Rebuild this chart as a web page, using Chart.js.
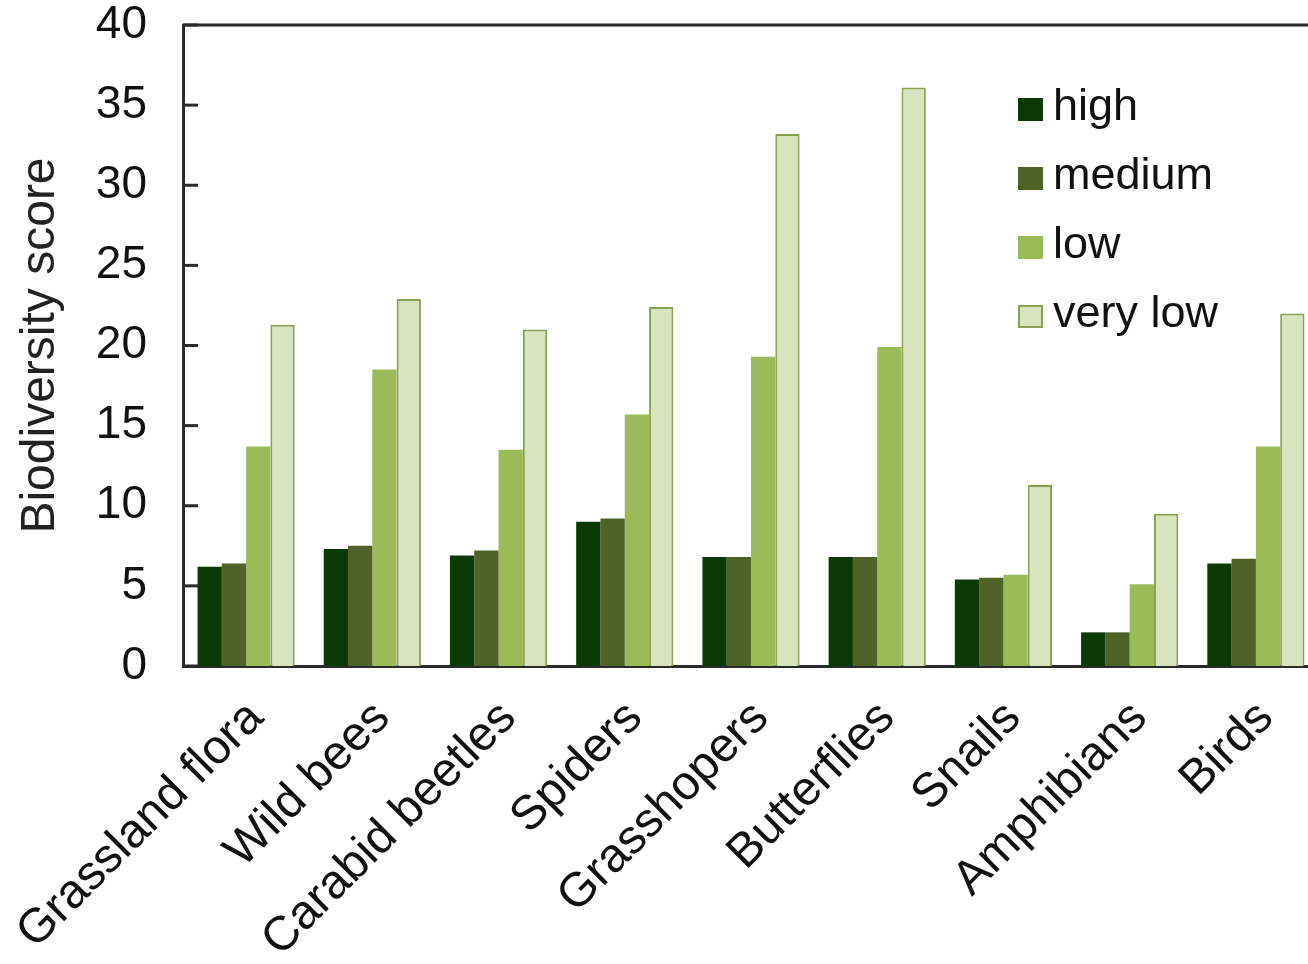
<!DOCTYPE html>
<html>
<head>
<meta charset="utf-8">
<title>Biodiversity score</title>
<script src="https://cdn.jsdelivr.net/npm/chart.js@4.4.1/dist/chart.umd.min.js"></script>
<style>
  html, body { margin: 0; padding: 0; background: #fff; overflow: hidden; }
  #graphique-biodiv { display: block; }
</style>
</head>
<body>
<canvas id="graphique-biodiv" width="1330" height="964"></canvas>
<script>
// Groupes d'especes (axe X)
const categories = ["Grassland flora", "Wild bees", "Carabid beetles", "Spiders", "Grasshopers", "Butterflies", "Snails", "Amphibians", "Birds"];
// Niveaux d'intensite (legende)
const niveaux = ["high", "medium", "low", "very low"];
// Scores par niveau
const scoresHigh = [6.2, 7.3, 6.9, 9.0, 6.8, 6.8, 5.4, 2.1, 6.4];
const scoresMedium = [6.4, 7.5, 7.2, 9.2, 6.8, 6.8, 5.5, 2.1, 6.7];
const scoresLow = [13.7, 18.5, 13.5, 15.7, 19.3, 19.9, 5.7, 5.1, 13.7];
const scoresVeryLow = [21.3, 22.9, 21.0, 22.4, 33.2, 36.1, 11.3, 9.5, 22.0];
// Graduations de l'axe Y
const yTicks = [0, 5, 10, 15, 20, 25, 30, 35, 40];

const police = "'Liberation Sans', Arial, sans-serif";
const couleurs = ["#0b3a07", "#4f6228", "#9bbb59", "#d7e4bd"];
const bordures = ["#0b3a07", "#4f6228", "#8fae4f", "#88a050"];

const series = [scoresHigh, scoresMedium, scoresLow, scoresVeryLow];

const data = {
  labels: categories,
  datasets: niveaux.map((niveau, i) => ({
    label: niveau,
    data: series[i],
    backgroundColor: couleurs[i],
    borderColor: bordures[i],
    borderWidth: i === 3 ? 2 : 0,
    barPercentage: 1.0,
    categoryPercentage: 0.77,
  })),
};

// Cadre du graphique (haut + droite) et petites graduations vers l'interieur
const cadrePlugin = {
  id: "cadre",
  afterDatasetsDraw(chart) {
    const { ctx, chartArea } = chart;
    const y = chart.scales.y;
    ctx.save();
    ctx.strokeStyle = "#2a2a2a";
    ctx.lineWidth = 3;
    ctx.beginPath();
    ctx.moveTo(chartArea.left, chartArea.top);
    ctx.lineTo(chartArea.right, chartArea.top);
    ctx.lineTo(chartArea.right, chartArea.bottom);
    ctx.stroke();
    for (const t of y.ticks) {
      const py = y.getPixelForValue(t.value);
      ctx.beginPath();
      ctx.moveTo(chartArea.left, py);
      ctx.lineTo(chartArea.left + 15, py);
      ctx.stroke();
    }
    ctx.restore();
  },
};

// Legende dessinee dans la zone du graphique, en haut a droite
const legendePlugin = {
  id: "legendeInterne",
  afterDraw(chart) {
    const { ctx } = chart;
    const x0 = 1018;
    const y0 = 108;
    const pas = 69;
    ctx.save();
    ctx.font = "45px " + police;
    ctx.textBaseline = "middle";
    chart.data.datasets.forEach((ds, i) => {
      const cy = y0 + i * pas;
      ctx.fillStyle = ds.backgroundColor;
      ctx.fillRect(x0, cy - 10, 25, 23);
      if (ds.borderWidth) {
        ctx.strokeStyle = ds.borderColor;
        ctx.lineWidth = 2;
        ctx.strokeRect(x0 + 1, cy - 9, 23, 21);
      }
      ctx.fillStyle = "#111";
      ctx.fillText(ds.label, x0 + 35, cy);
    });
    ctx.restore();
  },
};

const config = {
  type: "bar",
  data: data,
  options: {
    responsive: false,
    animation: false,
    devicePixelRatio: 1,
    layout: { padding: { left: 0, top: 25, right: 11, bottom: 0 } },
    plugins: {
      legend: { display: false },
      tooltip: { enabled: false },
    },
    scales: {
      x: {
        grid: { display: false, drawTicks: false },
        border: { display: true, color: "#2a2a2a", width: 3 },
        ticks: {
          autoSkip: false,
          minRotation: 45,
          maxRotation: 45,
          padding: 24,
          labelOffset: 10,
          color: "#111",
          font: { family: police, size: 48 },
        },
        afterFit(scale) {
          scale.height = 298;
          scale.paddingLeft = 0;
          scale.paddingRight = 0;
        },
      },
      y: {
        min: 0,
        max: 40,
        grid: { display: false, drawTicks: false },
        border: { display: true, color: "#2a2a2a", width: 3 },
        afterBuildTicks(scale) {
          scale.ticks = yTicks.map(v => ({ value: v }));
        },
        ticks: {
          padding: 36,
          color: "#111",
          font: { family: police, size: 46 },
        },
        title: {
          display: true,
          text: "Biodiversity score",
          color: "#222",
          padding: { top: 12, bottom: 0 },
          font: { family: police, size: 48 },
        },
        afterFit(scale) {
          scale.width = 183;
          scale.paddingTop = 0;
          scale.paddingBottom = 0;
        },
      },
    },
  },
  plugins: [cadrePlugin, legendePlugin],
};

new Chart(document.querySelector("#graphique-biodiv"), config);
</script>
</body>
</html>
